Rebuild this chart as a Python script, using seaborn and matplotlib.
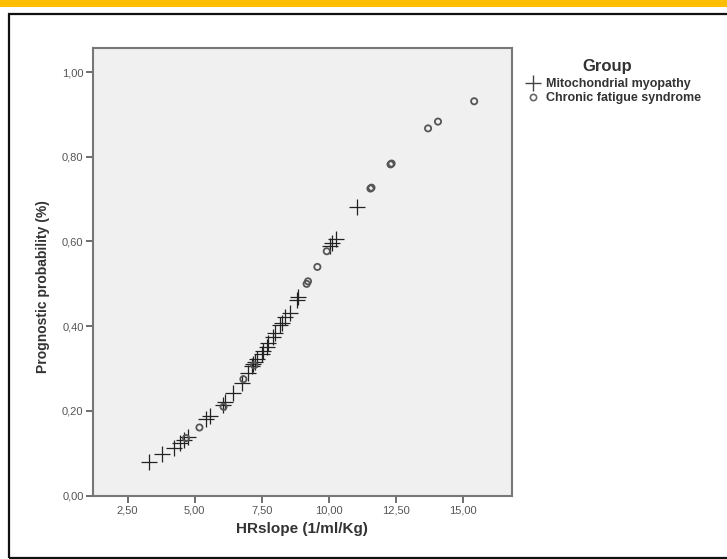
import matplotlib
matplotlib.use("Agg")
import matplotlib.pyplot as plt
import seaborn as sns
import pandas as pd
from matplotlib.patches import Rectangle
from matplotlib.ticker import FuncFormatter, FixedLocator
from matplotlib.lines import Line2D

# ---- data ----
mito_hr = [3.31, 3.79, 4.23, 4.46, 4.62, 4.75, 5.43, 5.57, 6.05, 6.12, 6.44, 6.76,
           7.00, 7.13, 7.19, 7.25, 7.32, 7.50, 7.56, 7.69, 7.75, 7.94, 8.00, 8.19,
           8.25, 8.37, 8.56, 8.81, 8.87, 10.05, 10.12, 10.28, 11.07]
mito_prob = [0.080, 0.098, 0.112, 0.124, 0.132, 0.138, 0.180, 0.188, 0.214, 0.220, 0.243, 0.265,
             0.289, 0.305, 0.311, 0.316, 0.322, 0.334, 0.341, 0.351, 0.360, 0.375, 0.383, 0.403,
             0.408, 0.422, 0.432, 0.462, 0.469, 0.590, 0.597, 0.607, 0.682]
cfs_hr = [4.68, 5.18, 6.08, 6.82, 7.22, 9.18, 9.23, 9.58, 9.93, 11.56, 11.60, 12.31, 12.35,
          13.71, 14.08, 15.43]
cfs_prob = [0.136, 0.161, 0.210, 0.275, 0.308, 0.500, 0.506, 0.540, 0.577, 0.725, 0.727,
            0.782, 0.784, 0.867, 0.883, 0.931]
groups = ["Mitochondrial myopathy", "Chronic fatigue syndrome"]
x_ticks = [2.5, 5.0, 7.5, 10.0, 12.5, 15.0]
y_ticks = [0.0, 0.2, 0.4, 0.6, 0.8, 1.0]

df = pd.DataFrame({
    "HRslope": mito_hr + cfs_hr,
    "prob": mito_prob + cfs_prob,
    "Group": [groups[0]] * len(mito_hr) + [groups[1]] * len(cfs_hr),
})

sns.set_style("white")
plt.rcParams["font.family"] = ["Liberation Sans", "DejaVu Sans"]

W, H = 727, 559
fig = plt.figure(figsize=(W / 100, H / 100), dpi=100)
fig.patch.set_facecolor("white")

# decorative frame of the slide
fig.add_artist(Rectangle((0, 1 - 7 / H), 1, 7 / H, transform=fig.transFigure,
                         facecolor="#FFBE00", edgecolor="none"))
fig.add_artist(Rectangle((8.5 / W, 1.5 / H), 1.2, (557 - 13.5) / H, transform=fig.transFigure,
                         facecolor="none", edgecolor="#111111", linewidth=1.6))

ax = fig.add_axes([93.3 / W, 1 - 495.7 / H, (511.7 - 93.3) / W, (495.7 - 48.3) / H])
ax.set_facecolor("#F0F0F0")

d1 = df[df["Group"] == groups[0]]
d2 = df[df["Group"] == groups[1]]
sns.scatterplot(data=d1, x="HRslope", y="prob", marker="+", s=130, color="#222222",
                linewidth=0.9, ax=ax, legend=False, zorder=3)
sns.scatterplot(data=d2, x="HRslope", y="prob", marker="o", s=20, facecolor="none",
                edgecolor="#555555", linewidth=1.3, ax=ax, legend=False, zorder=3)

ax.set_xlim(1.22, 16.83)
ax.set_ylim(0.0, 1.056)
ax.xaxis.set_major_locator(FixedLocator(x_ticks))
ax.yaxis.set_major_locator(FixedLocator(y_ticks))
fmt = FuncFormatter(lambda v, p: f"{v:.2f}".replace(".", ","))
ax.xaxis.set_major_formatter(fmt)
ax.yaxis.set_major_formatter(fmt)
ax.tick_params(axis="both", which="major", direction="out", length=5, width=1.2,
               color="#555555", labelsize=8, labelcolor="#555555", pad=2,
               bottom=True, left=True, top=False, right=False)
for sp in ax.spines.values():
    sp.set_color("#777777")
    sp.set_linewidth(1.5)
    sp.set_visible(True)

ax.set_xlabel("HRslope (1/ml/Kg)", fontsize=11, fontweight="bold", color="#333333")
ax.set_ylabel("Prognostic probability (%)", fontsize=10, fontweight="bold", color="#333333")
ax.xaxis.set_label_coords(0.498, -0.059)
ax.yaxis.set_label_coords(-0.103, 0.4676)

# legend
fig.text(607 / W, 1 - 67 / H, "Group", ha="center", va="center", fontsize=12,
         fontweight="bold", color="#333333")
h1 = Line2D([], [], marker="+", linestyle="none", color="#444444", markersize=11, markeredgewidth=1.0)
h2 = Line2D([], [], marker="o", linestyle="none", markerfacecolor="none",
            markeredgecolor="#666666", markersize=4.5, markeredgewidth=1.2)
leg = fig.legend([h1, h2], groups, loc="upper left",
                 bbox_to_anchor=(527 / W, 1 - 78 / H), frameon=False,
                 handlelength=1.0, handletextpad=0.56, labelspacing=0.15,
                 borderaxespad=0, borderpad=0, prop={"weight": "bold", "size": 9})
for t in leg.get_texts():
    t.set_color("#333333")

fig.savefig("out.png", dpi=100, facecolor="white")
